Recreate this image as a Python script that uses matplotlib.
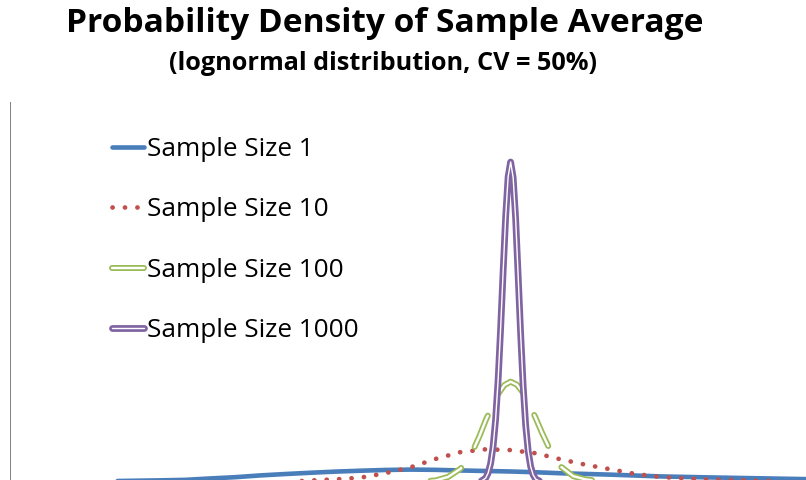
import numpy as np
import matplotlib
matplotlib.use("Agg")
import matplotlib.pyplot as plt
import matplotlib.patheffects as pe
from matplotlib.lines import Line2D

plt.rcParams['lines.scale_dashes'] = False
plt.rcParams['font.family'] = ['Open Sans', 'DejaVu Sans']

# ---------------- data (x in units of the mean) -------------
title_text = "Probability Density of Sample Average"
subtitle_text = "(lognormal distribution, CV = 50%)"
series_labels = ["Sample Size 1", "Sample Size 10", "Sample Size 100", "Sample Size 1000"]

x_n1 = [0.15, 0.17, 0.20, 0.25, 0.30, 0.35, 0.40, 0.45, 0.50, 0.55, 0.60, 0.65, 0.70,
        0.75, 0.80, 0.85, 0.90, 0.95, 1.00, 1.05, 1.10, 1.20, 1.30, 1.40, 1.50, 1.60]
y_n1 = [0.00, 0.04, 0.07, 0.10, 0.13, 0.17, 0.28, 0.38, 0.52, 0.63, 0.73, 0.82, 0.89,
        0.95, 0.98, 0.96, 0.91, 0.87, 0.83, 0.77, 0.69, 0.58, 0.44, 0.36, 0.29, 0.22]

x_n10 = [0.55, 0.60, 0.65, 0.70, 0.75, 0.80, 0.85, 0.90, 0.95, 1.00, 1.05, 1.10,
         1.15, 1.20, 1.25, 1.30, 1.35, 1.40, 1.45, 1.50, 1.55, 1.60]
y_n10 = [0.00, 0.12, 0.21, 0.34, 0.70, 1.16, 1.82, 2.36, 2.58, 2.52, 2.27, 1.79,
         1.36, 1.00, 0.63, 0.39, 0.28, 0.19, 0.16, 0.10, 0.05, 0.02]

x_n100 = [0.80, 0.825, 0.85, 0.875, 0.90, 0.9125, 0.925, 0.9375, 0.95, 0.9625, 0.975,
          0.9875, 1.00, 1.0125, 1.025, 1.0375, 1.05, 1.0625, 1.075, 1.0875, 1.10,
          1.125, 1.15, 1.175, 1.20, 1.25]
y_n100 = [0.00, 0.06, 0.12, 0.40, 1.05, 1.65, 2.50, 3.60, 4.85, 5.95, 6.95, 7.65,
          7.92, 7.68, 7.05, 6.10, 5.05, 3.90, 2.85, 1.95, 1.22, 0.46, 0.20, 0.10,
          0.04, 0.00]

x_n1000 = [0.94, 0.95, 0.955, 0.96, 0.965, 0.97, 0.975, 0.98, 0.985, 0.99, 0.995,
           1.00, 1.005, 1.01, 1.015, 1.02, 1.025, 1.03, 1.035, 1.04, 1.045, 1.05, 1.06]
y_n1000 = [0.04, 0.30, 0.70, 1.45, 2.80, 4.95, 8.05, 12.10, 16.60, 20.90, 24.10,
           25.26, 24.05, 20.80, 16.30, 11.70, 7.60, 4.50, 2.45, 1.22, 0.56, 0.23, 0.03]

# ---------------- style ----------------
BLUE, RED, GREEN, PURPLE = "#4A7EBB", "#C0504D", "#9BBB59", "#8064A2"
W, H, DPI = 806, 480, 100
PT = 72.0 / DPI  # points per pixel

fig = plt.figure(figsize=(W / DPI, H / DPI), dpi=DPI)
fig.patch.set_facecolor("white")

ax_left_px, ax_top_px, ax_bottom_px = 10, 102, 482
ax = fig.add_axes([ax_left_px / W, (H - ax_bottom_px) / H,
                   (W - ax_left_px) / W, (ax_bottom_px - ax_top_px) / H])
ax.set_xlim(0, 1.59)
ax.set_ylim(0, 30)
ax.set_xticks([])
ax.set_yticks([])
for s in ("top", "right", "bottom"):
    ax.spines[s].set_visible(False)
ax.spines["left"].set_color("#868686")
ax.spines["left"].set_linewidth(1.0 * PT)

# Sample size 1: solid blue
ax.plot(x_n1, y_n1, color=BLUE, lw=4.6 * PT, solid_capstyle="round", zorder=2)

# Sample size 10: round dots
dot_pattern = (0.1, 12.3 * PT)
ax.plot(x_n10, y_n10, color=RED, lw=4.7 * PT, linestyle=(0, dot_pattern),
        dash_capstyle="round", zorder=3)

# Sample size 100: hollow (double) dashed green
green_fx = [pe.Stroke(linewidth=6.0 * PT, foreground=GREEN), pe.Normal()]
g_line, = ax.plot(x_n100, y_n100, color="white", lw=2.4 * PT, solid_capstyle="round",
                  dash_capstyle="round", path_effects=green_fx, zorder=4)

# dash phase: centre one dash on the peak (path is clipped by the canvas at y=-1 px)
on, off = 34.0 * PT, 25.0 * PT
p = ax.transData.transform(np.column_stack([x_n100, y_n100]))
inside = p[:, 1] >= -1.0
i0 = int(np.argmax(inside))
if i0 > 0:
    a, b = p[i0 - 1], p[i0]
    t = (-1.0 - a[1]) / (b[1] - a[1])
    p = np.vstack([a + t * (b - a), p[i0:]])
    ipk = int(np.argmax(y_n100)) - i0 + 1
else:
    ipk = int(np.argmax(y_n100))
cum = np.concatenate([[0], np.cumsum(np.hypot(*np.diff(p, axis=0).T))]) * PT
Lp = cum[ipk]
g_line.set_linestyle(((on / 2 - Lp) % (on + off), (on, off)))

# Sample size 1000: double purple line
purple_fx = [pe.Stroke(linewidth=6.8 * PT, foreground=PURPLE), pe.Normal()]
ax.plot(x_n1000, y_n1000, color="white", lw=1.4 * PT, solid_capstyle="round",
        path_effects=purple_fx, zorder=5)

# ---------------- titles ----------------
renderer = fig.canvas.get_renderer()


def fit_width(txt, target_px):
    for _ in range(3):
        w = txt.get_window_extent(renderer).width
        txt.set_fontsize(txt.get_fontsize() * target_px / w)


t1 = fig.text(385 / W, (H - 32) / H, title_text, ha="center", va="baseline",
              fontsize=20, fontweight="bold", color="black")
fit_width(t1, 636)
t2 = fig.text(383 / W, (H - 70.5) / H, subtitle_text, ha="center", va="baseline",
              fontsize=14, fontweight="bold", color="black")
fit_width(t2, 428)

# ---------------- legend ----------------
probe = fig.text(0, 0, series_labels[3], fontsize=14)
fit_width(probe, 212)
F = probe.get_fontsize()
probe.remove()
F_px = F / PT

handles = [
    Line2D([], [], color=BLUE, lw=4.6 * PT, solid_capstyle="round"),
    Line2D([], [], color=RED, lw=4.7 * PT, linestyle=(0, dot_pattern), dash_capstyle="round"),
    Line2D([], [], color="white", lw=2.4 * PT, solid_capstyle="round", path_effects=green_fx),
    Line2D([], [], color="white", lw=1.4 * PT, solid_capstyle="round", path_effects=purple_fx),
]

target_x0 = 112.3
target_y = [146.7, 207.3, 268.3, 328.3]
ls = 1.5
anchor = [100 / W, (H - 130) / H]


def make_legend(ls, anchor):
    return ax.legend(handles, series_labels, loc="upper left", bbox_to_anchor=anchor,
                     bbox_transform=fig.transFigure, frameon=False, fontsize=F,
                     numpoints=1, handlelength=31.4 / F_px, handleheight=0.7,
                     handletextpad=3.5 / F_px, labelspacing=ls, borderpad=0,
                     borderaxespad=0)


leg = make_legend(ls, anchor)
for _ in range(3):
    fig.canvas.draw()
    ys = [H - (l.get_window_extent(renderer).y0 + l.get_window_extent(renderer).y1) / 2
          for l in leg.legend_handles]
    x0 = leg.legend_handles[0].get_window_extent(renderer).x0
    pitch = (ys[-1] - ys[0]) / 3.0
    tpitch = (target_y[-1] - target_y[0]) / 3.0
    ls = ls + (tpitch - pitch) / F_px
    anchor = [anchor[0] + (target_x0 - x0) / W, anchor[1] - (target_y[0] - ys[0]) / H]
    leg.remove()
    leg = make_legend(ls, anchor)

fig.savefig("out.png", dpi=DPI, facecolor="white")
